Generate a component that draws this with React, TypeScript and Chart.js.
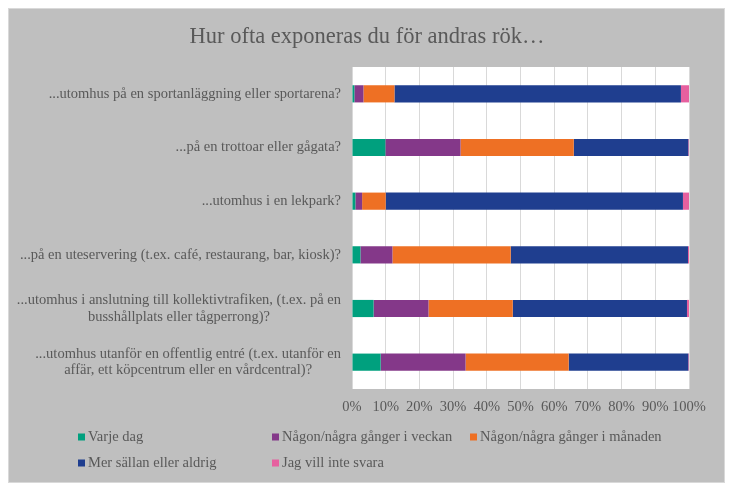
import React, { useEffect, useRef } from "react";
import { Chart, registerables } from "chart.js";

Chart.register(...registerables);

const title = "Hur ofta exponeras du för andras rök…";

const categories: string[][] = [
  ["...utomhus på en sportanläggning eller sportarena?"],
  ["...på en trottoar eller gågata?"],
  ["...utomhus i en lekpark?"],
  ["...på en uteservering (t.ex. café, restaurang, bar, kiosk)?"],
  ["...utomhus i anslutning till kollektivtrafiken, (t.ex. på en", "busshållplats eller tågperrong)?"],
  ["...utomhus utanför en offentlig entré (t.ex. utanför en", "affär, ett köpcentrum eller en vårdcentral)?"],
];

const seriesNames = [
  "Varje dag",
  "Någon/några gånger i veckan",
  "Någon/några gånger i månaden",
  "Mer sällan eller aldrig",
  "Jag vill inte svara",
];

const varjeDag = [0.7, 9.9, 1.0, 2.5, 6.4, 8.5];
const iVeckan = [2.7, 22.3, 2.0, 9.5, 16.3, 25.2];
const iManaden = [9.2, 33.6, 7.0, 35.1, 25.0, 30.6];
const sallan = [85.0, 34.0, 88.2, 52.6, 51.7, 35.5];
const villInteSvara = [2.4, 0.2, 1.8, 0.3, 0.6, 0.2];

const colors = ["#00A07E", "#843889", "#EE7024", "#1F3E8F", "#E6609F"];

const FONT = "'Liberation Serif', 'Times New Roman', serif";
const TEXT = "#595959";
const FS = 14.5;

export default function App() {
  const ref = useRef<HTMLCanvasElement | null>(null);

  useEffect(() => {
    const canvas = ref.current;
    if (!canvas) return;

    const bgPlugin = {
      id: "bg",
      beforeDraw(chart: any) {
        const { ctx, chartArea } = chart;
        ctx.save();
        ctx.fillStyle = "#ffffff";
        ctx.fillRect(0, 0, chart.width, chart.height);
        ctx.fillStyle = "#BFBFBF";
        ctx.fillRect(9, 9, 715, 473);
        ctx.strokeStyle = "#D9D9D9";
        ctx.lineWidth = 1;
        ctx.strokeRect(8.5, 8.5, 716, 474);
        ctx.fillStyle = "#ffffff";
        ctx.fillRect(chartArea.left, chartArea.top, chartArea.right - chartArea.left, chartArea.bottom - chartArea.top);
        ctx.fillStyle = TEXT;
        ctx.font = `22.5px ${FONT}`;
        ctx.textAlign = "center";
        ctx.textBaseline = "middle";
        ctx.fillText(title, 367, 37);
        ctx.restore();
      },
      afterDraw(chart: any) {
        const { ctx, chartArea } = chart;
        const yScale = chart.scales.y;
        ctx.save();
        ctx.fillStyle = TEXT;
        ctx.font = `${FS}px ${FONT}`;
        ctx.textAlign = "center";
        ctx.textBaseline = "middle";
        const lh = 16.5;
        const rightEdge = chartArea.left - 11;
        categories.forEach((lines, i) => {
          const maxW = Math.max(...lines.map((l) => ctx.measureText(l).width));
          const cx = rightEdge - maxW / 2;
          const cy = yScale.getPixelForValue(i);
          const startY = cy - ((lines.length - 1) * lh) / 2;
          lines.forEach((l, j) => ctx.fillText(l, cx, startY + j * lh));
        });
        const cols = [78, 272, 470];
        const rows = [437, 463];
        ctx.textAlign = "left";
        seriesNames.forEach((name, k) => {
          const x = cols[k % 3];
          const y = rows[Math.floor(k / 3)];
          ctx.fillStyle = colors[k];
          ctx.fillRect(x, y - 3.5, 7, 7);
          ctx.fillStyle = TEXT;
          ctx.fillText(name, x + 10, y);
        });
        ctx.restore();
      },
    };

    const series = [varjeDag, iVeckan, iManaden, sallan, villInteSvara];

    const chart = new Chart(canvas, {
      type: "bar",
      data: {
        labels: categories.map((c) => c.join(" ")),
        datasets: series.map((data, k) => ({
          label: seriesNames[k],
          data,
          backgroundColor: colors[k],
          borderWidth: 0,
          categoryPercentage: 1,
          barPercentage: 0.32,
        })),
      },
      options: {
        indexAxis: "y",
        responsive: false,
        animation: false,
        devicePixelRatio: 1,
        layout: { padding: { left: 0, top: 67, right: 47, bottom: 74 } },
        plugins: {
          legend: { display: false },
          title: { display: false },
          tooltip: { enabled: false },
        },
        scales: {
          x: {
            stacked: true,
            min: 0,
            max: 100,
            border: { display: false },
            grid: { color: "#D9D9D9", lineWidth: 1, drawTicks: false },
            ticks: {
              stepSize: 10,
              padding: 9,
              maxRotation: 0,
              minRotation: 0,
              autoSkip: false,
              color: TEXT,
              font: { family: FONT, size: FS },
              callback: (v: any) => `${v}%`,
            },
            afterFit: (scale: any) => {
              scale.height = 30;
            },
          },
          y: {
            stacked: true,
            border: { display: false },
            grid: { display: false, drawTicks: false },
            ticks: { display: false },
            afterFit: (scale: any) => {
              scale.width = 352;
            },
          },
        },
      } as any,
      plugins: [bgPlugin],
    });

    return () => chart.destroy();
  }, []);

  return (
    <div style={{ position: "fixed", left: 0, top: 0, width: 736, height: 493 }}>
      <canvas ref={ref} width={736} height={493} style={{ width: 736, height: 493, display: "block" }} />
    </div>
  );
}
